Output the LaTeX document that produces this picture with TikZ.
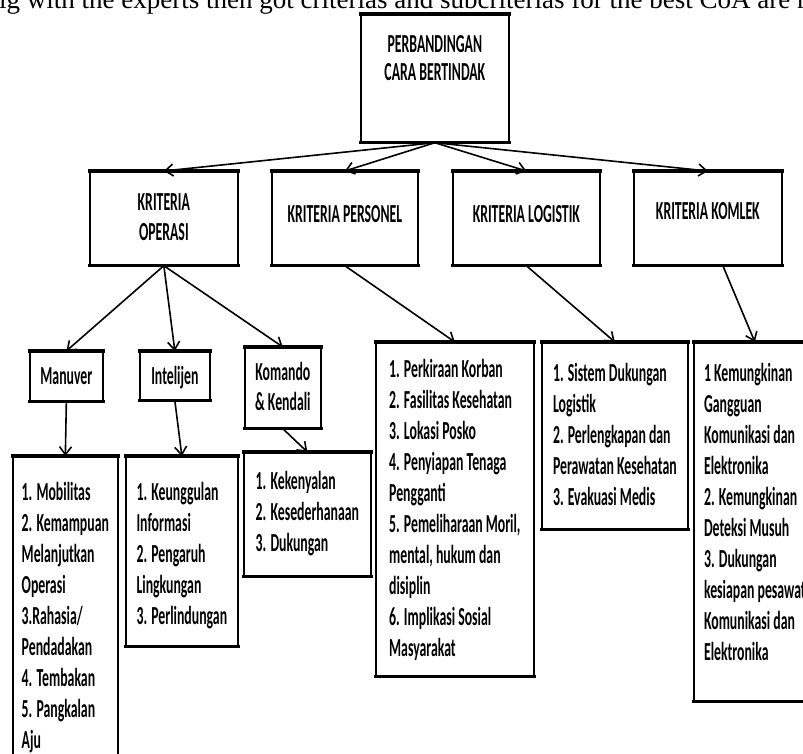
\documentclass[tikz,border=0pt]{standalone}
\usepackage{fontspec}
\newfontfamily\boxfont[FakeStretch=0.53]{Carlito}
\newfontfamily\pagefont{Liberation Serif}
\usetikzlibrary{arrows.meta}
\tikzset{
    boxrim/.style={draw,line width=3.4pt,shorten <=-0.8pt,shorten >=-0.8pt},
    box/.style={draw,line width=1.7pt,inner sep=0pt,anchor=north west,
        font=\boxfont\bfseries\fontsize{26}{31}\selectfont,
        append after command={(\tikzlastnode.north west) edge[boxrim] (\tikzlastnode.north east)
            (\tikzlastnode.south west) edge[boxrim] (\tikzlastnode.south east)}},
    titlebox/.style={box,font=\boxfont\bfseries\fontsize{26}{30}\selectfont},
    listbox/.style={box,inner xsep=8pt},
    link/.style={-{Straight Barb[length=8pt,width=12pt]},line width=1.6pt},
    pagetext/.style={font=\pagefont\fontsize{27}{30}\selectfont,inner sep=0pt,anchor=base west}
}
\newcommand{\Rows}[2]{\begin{tabular}[t]{@{}#1@{}}#2\end{tabular}}

\begin{document}
\begin{tikzpicture}[x=1pt,y=-1pt]
    \useasboundingbox (0,0) rectangle (803,753);
    \clip (0,0) rectangle (803,753);

    % line of the page above the figure, cut by the crop
    \node[pagetext] (pageLine) at (-1,8.5) {ig with the experts then got criterias and subcriterias for the best CoA are n};

    % goal
    \node[titlebox,minimum width=148pt,text height=38pt,text depth=89pt,
          font=\boxfont\bfseries\fontsize{26}{28}\selectfont] (root) at (360,14) {\Rows{c}{PERBANDINGAN\\CARA BERTINDAK}};

    % criteria
    \node[titlebox,minimum width=148pt,text height=39pt,text depth=54pt] (critOps) at (89,171) {\Rows{c}{KRITERIA\\OPERASI}};
    \node[titlebox,minimum width=146pt,text height=51pt,text depth=42pt] (critPers) at (271,171) {\Rows{c}{KRITERIA PERSONEL}};
    \node[titlebox,minimum width=147pt,text height=51pt,text depth=42pt] (critLog) at (452,171) {\Rows{c}{KRITERIA LOGISTIK}};
    \node[titlebox,minimum width=148pt,text height=48pt,text depth=45pt] (critKom) at (633,171) {\Rows{c}{KRITERIA KOMLEK}};

    % operation criteria split
    \node[titlebox,minimum width=73pt,text height=33pt,text depth=16pt] (subMan) at (29,351) {\Rows{c}{Manuver}};
    \node[titlebox,minimum width=70pt,text height=33pt,text depth=15pt] (subInt) at (139,351) {\Rows{c}{Intelijen}};
    \node[titlebox,minimum width=76pt,text height=33pt,text depth=47pt] (subKom) at (244,347) {\Rows{c}{Komando\\\& Kendali}};

    % subcriteria lists
    \node[listbox,minimum width=105pt,text height=44pt,text depth=286pt] (listMan) at (12,456)
        {\Rows{l}{1. Mobilitas\\2. Kemampuan\\Melanjutkan\\Operasi\\3.Rahasia/\\Pendadakan\\4. Tembakan\\5. Pangkalan\\Aju}};
    \node[listbox,minimum width=112pt,text height=44pt,text depth=145pt] (listInt) at (125,456)
        {\Rows{l}{1. Keunggulan\\Informasi\\2. Pengaruh\\Lingkungan\\3. Perlindungan}};
    \node[listbox,minimum width=127pt,text height=37pt,text depth=86pt] (listKom) at (243,452)
        {\Rows{l}{1. Kekenyalan\\2. Kesederhanaan\\3. Dukungan}};
    \node[listbox,minimum width=158pt,text height=35pt,text depth=298pt] (listPers) at (375,342)
        {\Rows{l}{1. Perkiraan Korban\\2. Fasilitas Kesehatan\\3. Lokasi Posko\\4. Penyiapan Tenaga\\Pengganti\\5. Pemeliharaan Moril,\\mental, hukum dan\\disiplin\\6. Implikasi Sosial\\Masyarakat}};
    \node[listbox,minimum width=146pt,text height=39pt,text depth=147pt] (listLog) at (541,342)
        {\Rows{l}{1. Sistem Dukungan\\Logistik\\2. Perlengkapan dan\\Perawatan Kesehatan\\3. Evakuasi Medis}};
    \node[listbox,minimum width=122pt,text height=39pt,text depth=319pt] (listKmk) at (693,342)
        {\Rows{l}{1 Kemungkinan\\Gangguan\\Komunikasi dan\\Elektronika\\2. Kemungkinan\\Deteksi Musuh\\3. Dukungan\\kesiapan pesawat\\Komunikasi dan\\Elektronika}};

    % arrows
    \foreach \crit in {critOps,critPers,critLog,critKom} {\draw[link] (root.south) -- (\crit.north);}
    \foreach \sub in {subMan,subInt,subKom} {\draw[link] (critOps.south) -- (\sub.north);}
    \draw[link] (subMan.south) -- (listMan.north);
    \draw[link] (subInt.south) -- (listInt.north);
    \draw[link] (subKom.south) -- (listKom.north);
    \draw[link] (critPers.south) -- (listPers.north);
    \draw[link] (critLog.south) -- (listLog.north);
    \draw[link] ([xshift=15pt]critKom.south) -- (listKmk.north);

\end{tikzpicture}
\end{document}
